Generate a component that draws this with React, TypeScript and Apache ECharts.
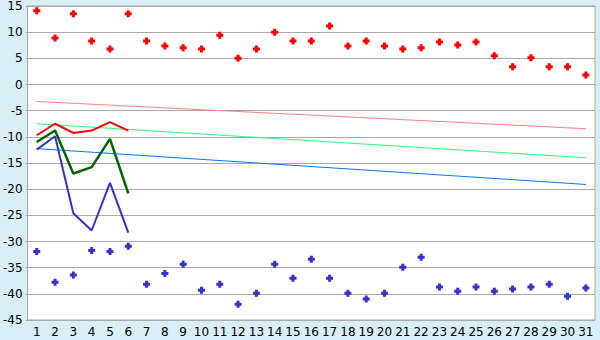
import React, { useEffect, useRef } from "react";
import * as echarts from "echarts";

const days = Array.from({ length: 31 }, (_, i) => String(i + 1));

const redPoints = [14.1, 8.9, 13.5, 8.3, 6.8, 13.5, 8.3, 7.35, 7.0, 6.8, 9.4, 5.0, 6.8, 10.0, 8.3, 8.3, 11.2, 7.35, 8.3, 7.35, 6.8, 7.0, 8.1, 7.55, 8.1, 5.5, 3.4, 5.1, 3.4, 3.4, 1.8];
const bluePoints = [-31.9, -37.8, -36.4, -31.7, -31.9, -30.9, -38.15, -36.1, -34.35, -39.3, -38.15, -42.0, -39.9, -34.35, -37.0, -33.4, -37.0, -39.9, -41.0, -39.9, -34.9, -33.0, -38.7, -39.5, -38.7, -39.5, -39.1, -38.7, -38.15, -40.45, -38.9];

const redLine = [-9.7, -7.5, -9.25, -8.8, -7.2, -8.8];
const greenLine = [-11.0, -8.8, -17.0, -15.8, -10.4, -20.8];
const blueLine = [-12.45, -9.9, -24.6, -27.9, -18.8, -28.3];

const trendSalmon = [-3.25, -8.45];
const trendGreen = [-7.5, -14.0];
const trendBlue = [-12.25, -19.1];

const yTicks = { min: -45, max: 15, interval: 5 };

const marker = "path://M2,0H5V2H7V5H5V7H2V5H0V2H2Z";

export default function App() {
  const ref = useRef<HTMLDivElement>(null);
  useEffect(() => {
    if (!ref.current) return;
    const chart = echarts.init(ref.current, undefined, { renderer: "svg" });
    const font = "DejaVu Sans";
    const trend = (vals: number[], color: string) => ({
      type: "line",
      data: [
        [days[0], vals[0]],
        [days[days.length - 1], vals[1]],
      ],
      symbol: "none",
      lineStyle: { color, width: 1 },
      z: 2,
    });
    const line = (vals: number[], color: string, width: number) => ({
      type: "line",
      data: vals,
      symbol: "none",
      lineStyle: { color, width },
      z: 3,
    });
    const scatter = (vals: number[], color: string) => ({
      type: "scatter",
      data: vals,
      symbol: marker,
      symbolSize: 7,
      itemStyle: { color, opacity: 1 },
      z: 4,
    });
    chart.setOption({
      animation: false,
      backgroundColor: "#d9eef5",
      grid: {
        left: 27,
        right: 5,
        top: 5,
        bottom: 20,
        show: true,
        backgroundColor: "#ffffff",
        borderColor: "#aaaaaa",
        borderWidth: 1,
      },
      xAxis: {
        type: "category",
        data: days,
        boundaryGap: true,
        axisLine: { lineStyle: { color: "#aaaaaa" } },
        axisTick: { alignWithLabel: true, length: 5, lineStyle: { color: "#444444" } },
        axisLabel: { color: "#000", fontFamily: font, fontSize: 12, margin: 6, interval: 0 },
        splitLine: { show: false },
      },
      yAxis: {
        type: "value",
        min: yTicks.min,
        max: yTicks.max,
        interval: yTicks.interval,
        axisLine: { show: true, lineStyle: { color: "#aaaaaa" } },
        axisTick: { show: true, length: 2, lineStyle: { color: "#aaaaaa" } },
        axisLabel: { color: "#000", fontFamily: font, fontSize: 12, margin: 5 },
        splitLine: { show: true, lineStyle: { color: "#aaaaaa", width: 1 } },
      },
      series: [
        trend(trendSalmon, "#ff8080"),
        trend(trendGreen, "#22ff77"),
        trend(trendBlue, "#0077ff"),
        line(blueLine, "#3333cc", 2),
        line(greenLine, "#006600", 2.5),
        line(redLine, "#ff0000", 2),
        scatter(redPoints, "#ff0000"),
        scatter(bluePoints, "#3333cc"),
      ],
    });
    return () => chart.dispose();
  }, []);
  return (
    <div
      ref={ref}
      style={{ position: "fixed", left: 0, top: 0, width: 600, height: 340 }}
    />
  );
}
